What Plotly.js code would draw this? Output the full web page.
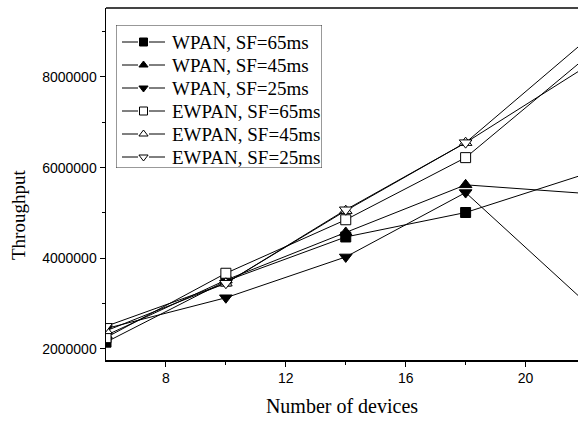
<!DOCTYPE html>
<html>
<head>
<meta charset="utf-8">
<script src="https://cdn.plot.ly/plotly-3.0.1.min.js"></script>
<style>html,body{margin:0;padding:0;background:#fff;}#chart{width:578px;height:421px;}</style>
</head>
<body>
<div id="chart"></div>
<script>
const devices = [6, 10, 14, 18, 22];
const wpan65 = [2150000, 3500000, 4470000, 5010000, 5860000];
const wpan45 = [2300000, 3520000, 4570000, 5620000, 5430000];
const wpan25 = [2450000, 3130000, 4030000, 5450000, 3030000];
const ewpan65 = [2250000, 3670000, 4850000, 6220000, 8420000];
const ewpan45 = [2400000, 3450000, 5050000, 6550000, 8220000];
const ewpan25 = [2500000, 3450000, 5070000, 6550000, 8800000];
const seriesNames = ['WPAN, SF=65ms', 'WPAN, SF=45ms', 'WPAN, SF=25ms', 'EWPAN, SF=65ms', 'EWPAN, SF=45ms', 'EWPAN, SF=25ms'];
const xTicks = [8, 12, 16, 20];
const yTicks = [2000000, 4000000, 6000000, 8000000];

const seriesData = [wpan65, wpan45, wpan25, ewpan65, ewpan45, ewpan25];
const symbols = ['square', 'triangle-up', 'triangle-down', 'square', 'triangle-up', 'triangle-down'];
const filled = [true, true, true, false, false, false];
const sizes = [10, 11, 11, 10, 11, 11];

const serif = 'Liberation Serif, Times New Roman, serif';
const sans = 'Liberation Sans, Arial, sans-serif';

const traces = [];
seriesData.forEach((ys, i) => {
  traces.push({
    x: devices, y: ys, name: seriesNames[i], type: 'scatter', mode: 'lines+markers',
    showlegend: false, cliponaxis: true,
    line: {color: '#000', width: 1},
    marker: {symbol: symbols[i], size: sizes[i], color: filled[i] ? '#000' : '#fff', line: {color: '#000', width: 1}}
  });
});

// Legend box drawn on an overlay axis measured in pixels (206 x 143)
const rowH = 23, row0 = 17;
const annotations = [];
seriesNames.forEach((name, i) => {
  const ry = row0 + i * rowH;
  traces.push({
    x: [6, 22, null, 33, 49], y: [ry, ry, null, ry, ry], xaxis: 'x2', yaxis: 'y2',
    mode: 'lines', line: {color: '#000', width: 1}, showlegend: false, hoverinfo: 'skip', cliponaxis: false
  });
  traces.push({
    x: [27.5], y: [ry], xaxis: 'x2', yaxis: 'y2', mode: 'markers', showlegend: false, hoverinfo: 'skip', cliponaxis: false,
    marker: {symbol: symbols[i], size: 8, color: filled[i] ? '#000' : '#fff', line: {color: '#000', width: 1}}
  });
  annotations.push({
    xref: 'x2', yref: 'y2', x: 54, y: ry, xanchor: 'left', yanchor: 'middle', showarrow: false,
    text: name, font: {family: serif, size: 19, color: '#000'}
  });
});

annotations.push({
  xref: 'paper', yref: 'paper', x: (18 - 106) / 472, y: (360 - 215) / 352, xanchor: 'center', yanchor: 'middle',
  showarrow: false, textangle: -90, text: 'Throughput', font: {family: serif, size: 19, color: '#000'}
});

const layout = {
  width: 578, height: 421,
  margin: {l: 106, r: 0, t: 8, b: 61},
  paper_bgcolor: '#fff', plot_bgcolor: '#fff',
  showlegend: false,
  xaxis: {
    range: [6, 21.75], tickvals: xTicks, ticktext: xTicks.map(String),
    ticks: 'outside', ticklen: 5, tickcolor: '#000', tickwidth: 1,
    showline: true, linecolor: '#000', linewidth: 1.5, mirror: false,
    showgrid: false, zeroline: false,
    tickfont: {family: sans, size: 14, color: '#000'},
    minor: {tickvals: [10, 14, 18], ticks: 'outside', ticklen: 3, tickcolor: '#000'},
    title: {text: 'Number of devices', font: {family: serif, size: 20, color: '#000'}, standoff: 13}
  },
  yaxis: {
    range: [1757000, 9520000], tickvals: yTicks, ticktext: yTicks.map(String),
    ticks: 'outside', ticklen: 5, tickcolor: '#000', tickwidth: 1,
    showline: true, linecolor: '#000', linewidth: 1.5, mirror: false,
    showgrid: false, zeroline: false,
    tickfont: {family: sans, size: 14, color: '#000'},
    minor: {tickvals: [3000000, 5000000, 7000000, 9000000], ticks: 'outside', ticklen: 3, tickcolor: '#000'}
  },
  xaxis2: {domain: [(116 - 106) / 472, (322 - 106) / 472], range: [0, 206], anchor: 'y2', visible: false, fixedrange: true},
  yaxis2: {domain: [(360 - 168) / 352, (360 - 25) / 352], range: [143, 0], anchor: 'x2', visible: false, fixedrange: true},
  annotations: annotations,
  shapes: [
    {type: 'line', xref: 'paper', yref: 'paper', x0: 0, x1: 1, y0: 1, y1: 1, line: {color: '#444', width: 2}},
    {type: 'rect', xref: 'x2', yref: 'y2', x0: 0, x1: 206, y0: 0, y1: 143, line: {color: '#333', width: 1}, fillcolor: '#fff', layer: 'below'}
  ]
};

Plotly.newPlot('chart', traces, layout, {displayModeBar: false, staticPlot: true});
</script>
</body>
</html>
